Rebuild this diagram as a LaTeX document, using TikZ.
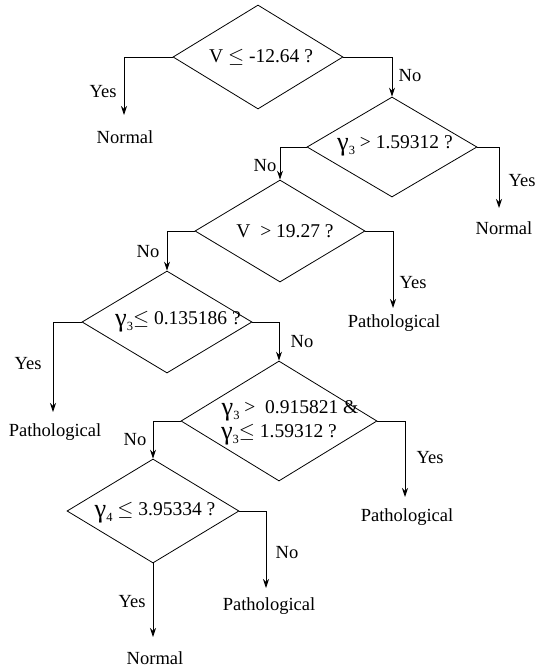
\documentclass[tikz,border=0pt]{standalone}
\usepackage{fontspec}
\setmainfont{Liberation Serif}
\usetikzlibrary{shapes.geometric,arrows.meta}
\newcommand\gsub[1]{\raisebox{-0.12em}{\scalebox{1.35}{γ}}\raisebox{-0.3em}{\fontsize{12.5}{12.5}\selectfont #1}}
\newcommand\myle{\ensuremath{\leq}}
\begin{document}
\begin{tikzpicture}[x=1pt,y=-1pt,
  every node/.style={font=\fontsize{18.5}{21}\selectfont, inner sep=0pt},
  dia/.style={draw, diamond, line width=0.8pt},
  arr/.style={line width=0.9pt, -{Stealth[length=9pt,width=6pt]}},
  txt/.style={align=center, font=\fontsize{19.5}{22}\selectfont}]
\useasboundingbox (0,0) rectangle (537,667);
% decision diamonds
\node[dia, minimum width=170pt, minimum height=104pt] (d1) at (258,57) {};
\node[dia, minimum width=170pt, minimum height=100pt] (d2) at (392,147) {};
\node[dia, minimum width=170pt, minimum height=102pt] (d3) at (280,231) {};
\node[dia, minimum width=170pt, minimum height=102pt] (d4) at (167,322) {};
\node[dia, minimum width=196pt, minimum height=120pt] (d5) at (279,421) {};
\node[dia, minimum width=172pt, minimum height=104pt] (d6) at (153,511) {};
% diamond texts
\node[txt] (t1) at (261,57) {V \myle{} -12.64 ?};
\node[txt] (t2) at (395,146) {\gsub{3} > 1.59312 ?};
\node[txt] (t3) at (285,231) {V\ \ > 19.27 ?};
\node[txt] (t4) at (178,322) {\gsub{3}\myle{} 0.135186 ?};
\node[txt] (t5a) at (290,411) {\gsub{3} > \ 0.915821 \&};
\node[txt] (t5b) at (279,435) {\gsub{3}\myle{} 1.59312 ?};
\node[txt] (t6) at (155,513) {\gsub{4} \myle{} 3.95334 ?};
% arrow ends
\coordinate (e1) at (124,115);
\coordinate (e2) at (499,208);
\coordinate (e3) at (393,308);
\coordinate (e4) at (53,412);
\coordinate (e5) at (405,497);
\coordinate (e6) at (266,588);
\coordinate (e7) at (153,637);
% connectors
\draw[arr] (d1.west) -| (e1);
\draw[arr] (d1.east) -| (d2.north);
\draw[arr] (d2.east) -| (e2);
\draw[arr] (d2.west) -| (d3.north);
\draw[arr] (d3.east) -| (e3);
\draw[arr] (d3.west) -| (d4.north);
\draw[arr] (d4.west) -| (e4);
\draw[arr] (d4.east) -| (d5.north);
\draw[arr] (d5.east) -| (e5);
\draw[arr] (d5.west) -| (d6.north);
\draw[arr] (d6.east) -| (e6);
\draw[arr] (d6.south) -- (e7);
% leaves
\node (l1) at (125,137) {Normal};
\node (l2) at (504,228) {Normal};
\node (l3) at (394,323) {Pathological};
\node (l4) at (55,432) {Pathological};
\node (l5) at (407,517) {Pathological};
\node (l6) at (269,606) {Pathological};
\node (l7) at (155,658) {Normal};
% edge labels
\node (y1) at (103,92) {Yes};
\node (n1) at (410,76) {No};
\node (y2) at (522,181) {Yes};
\node (n2) at (265,166) {No};
\node (y3) at (413,283) {Yes};
\node (n3) at (148,252) {No};
\node (y4) at (28,364) {Yes};
\node (n4) at (302,342) {No};
\node (y5) at (430,458) {Yes};
\node (n5) at (135,440) {No};
\node (n6) at (287,553) {No};
\node (y6) at (132,602) {Yes};
\end{tikzpicture}
\end{document}
